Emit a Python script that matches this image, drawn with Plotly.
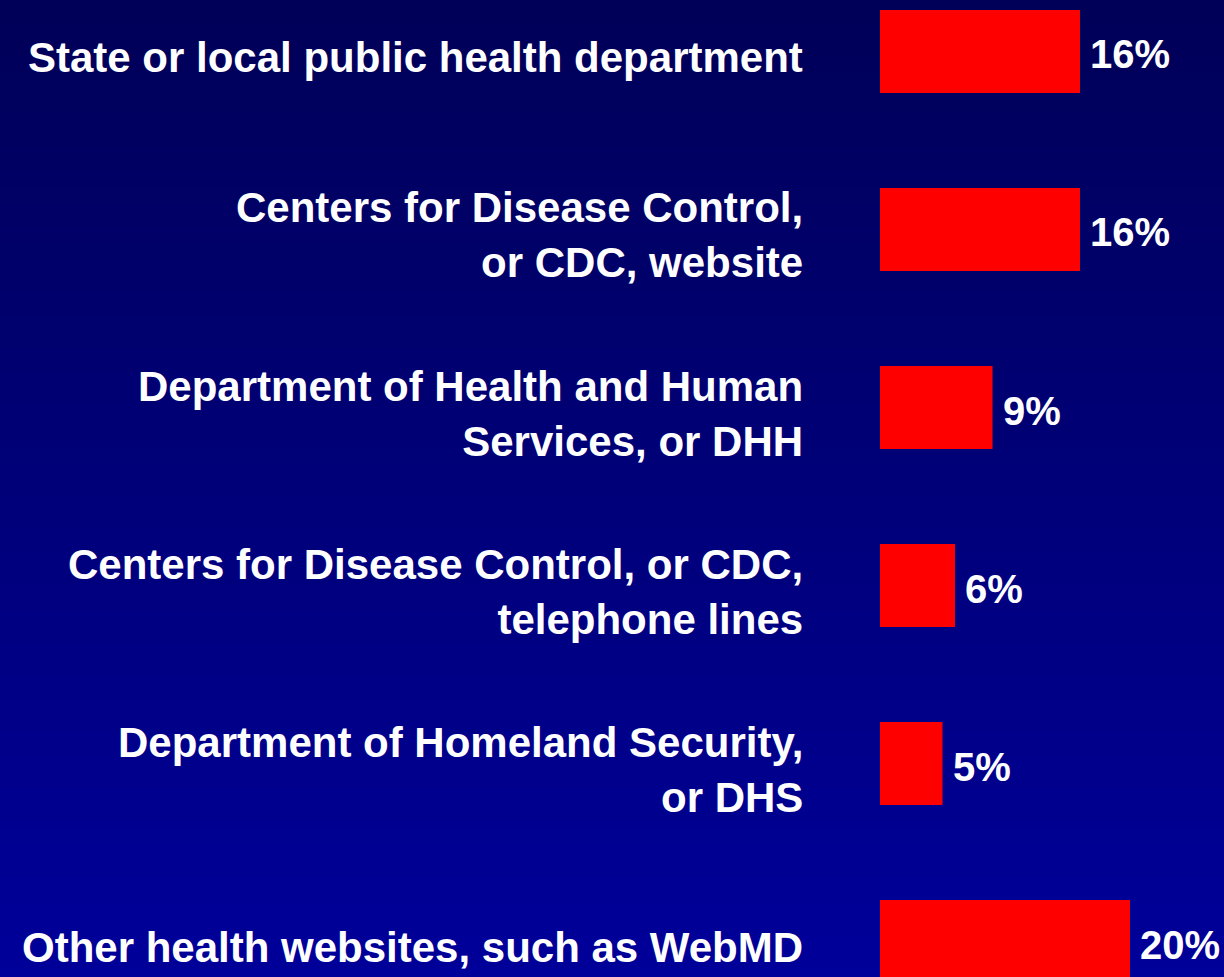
import plotly.graph_objects as go

# Survey answers: where people would look for information
categories = [
    "State or local public health department",
    "Centers for Disease Control,<br>or CDC, website",
    "Department of Health and Human<br>Services, or DHH",
    "Centers for Disease Control, or CDC,<br>telephone lines",
    "Department of Homeland Security,<br>or DHS",
    "Other health websites, such as WebMD",
]
percents = [16, 16, 9, 6, 5, 20]

W, H = 1224, 977
FONT = "Liberation Sans, Arial, sans-serif"

fig = go.Figure()

fig.add_trace(go.Bar(
    x=percents,
    y=categories,
    orientation="h",
    width=0.466,
    marker=dict(color="#FF0000", line=dict(width=0)),
    text=[f"{p}%" for p in percents],
    textposition="none",
    showlegend=False,
))

# value labels just right of each bar, a touch below centre like the slide
for cat, p in zip(categories, percents):
    fig.add_annotation(
        x=p, y=cat, xref="x", yref="y",
        text=f"{p}%", showarrow=False,
        xanchor="left", xshift=8, yshift=-3,
        font=dict(family=FONT, size=40, color="white", weight="bold"),
    )

# category labels, right aligned left of the bars
for cat in categories:
    fig.add_annotation(
        x=0, y=cat, xref="paper", yref="y",
        text=cat, showarrow=False,
        xanchor="right", align="right", xshift=-75, yshift=-6,
        font=dict(family=FONT, size=42, color="white", weight="bold"),
    )

# vertical gradient background, dark navy at the top to brighter blue at the bottom
top = (0, 0, 88)
bottom = (0, 0, 154)
n_strips = 120
shapes = []
for i in range(n_strips):
    t = i / (n_strips - 1)
    c = tuple(round(top[k] + (bottom[k] - top[k]) * t) for k in range(3))
    shapes.append(dict(
        type="rect", xref="paper", yref="paper", layer="below",
        x0=-5, x1=5,
        y0=1 - (i + 1) / n_strips - 0.001, y1=1 - i / n_strips + 0.001,
        fillcolor="rgb(%d,%d,%d)" % c, line=dict(width=0),
    ))

fig.update_layout(
    width=W,
    height=H,
    margin=dict(l=880, r=0, t=0, b=0),
    paper_bgcolor="rgb(0,0,88)",
    plot_bgcolor="rgba(0,0,0,0)",
    shapes=shapes,
    xaxis=dict(range=[0, 344 / 12.5], visible=False, fixedrange=True),
    yaxis=dict(
        type="category",
        range=[5.199, -0.289],
        showgrid=False,
        zeroline=False,
        showline=False,
        showticklabels=False,
        ticks="",
        automargin=False,
        fixedrange=True,
    ),
)

# drop the browser's default page margin so the chart fills the window
fig.write_html(
    "out.html",
    config={"displayModeBar": False},
    post_script="document.body.style.margin='0';document.body.style.background='rgb(0,0,154)';",
)
